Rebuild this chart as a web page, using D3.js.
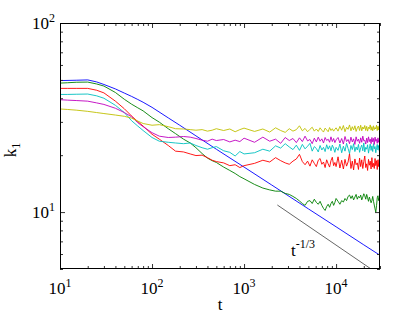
<!DOCTYPE html>
<html lang="en">
<head>
<meta charset="UTF-8">
<title>k1 versus t</title>
<style>
  body { margin: 0; background: #fff; }
  text { font-family: "Liberation Serif", "Times New Roman", "DejaVu Serif", serif; }
</style>
</head>
<body>
<svg width="420" height="316"></svg>

<script src="https://d3js.org/d3.v7.min.js"></script>
<script>
// time samples shared by the five noisy runs
const tGrid = [10, 12, 15, 20, 25, 30, 40, 50, 60, 70, 80, 100, 120, 150, 180, 220, 260, 300, 350, 400, 450, 500, 600, 700, 800, 900,
  1000, 1300, 1600, 1900, 2200, 2500, 2800, 3100, 3400, 3700, 4000, 4300, 4600, 4900, 5200, 5500, 5800, 6100, 6400, 6700,
  7000, 7300, 7600, 7900, 8200, 8500, 8800, 9100, 9400, 9700, 10000,
  10500, 11000, 11500, 12000, 12500, 13000, 13500, 14000, 14500, 15000, 15500, 16000, 16500, 17000, 17500, 18000, 18500,
  19000, 19500, 20000, 20500, 21000, 21500, 22000, 22500, 23000, 23500, 24000, 24500, 25000, 25500, 26000, 26500, 27000,
  27500, 28000, 28500, 29000, 29500, 30000];

const kGreen = [48.1, 48.3, 48.6, 48.7, 47.6, 46.4, 42.9, 39.5, 37.2, 35.6, 34.3, 31.6, 29.9, 27.6, 26.0, 24.3, 23.2, 21.9, 20.4, 19.3, 18.7, 18.3, 17.3, 16.6, 16.0, 15.4,
  15.0, 14.0, 13.4, 13.1, 12.9, 12.9, 12.55, 12.4, 12.1, 11.8, 11.45, 11.1, 10.85, 11.4, 11.5, 11.1, 11.7, 11.25, 11.0, 11.4,
  10.85, 10.45, 10.2, 10.7, 11.0, 10.6, 11.1, 11.4, 10.85, 11.25, 11.8,
  11.4, 11.0, 11.5, 11.3, 11.8, 11.5, 12.1, 12.3, 11.8, 12.2, 11.6, 12.0, 12.4, 11.7, 12.1, 11.9, 12.3, 11.6, 12.0, 12.5,
  12.2, 11.7, 12.4, 11.9, 11.4, 12.0, 11.6, 11.2, 11.5, 12.1, 11.4, 10.9, 10.4, 10.0, 10.8, 11.9, 12.2, 11.5, 11.9, 12.0];

const kRed = [45.1, 45.1, 45.1, 45.1, 44.1, 42.7, 38.6, 35.2, 32.2, 30.1, 28.5, 25.8, 24.3, 22.5, 21.0, 20.8, 20.3, 19.9, 20.0, 19.4, 18.8, 18.5, 18.2, 17.6, 17.8, 17.2,
  17.6, 18.1, 18.8, 18.4, 19.4, 18.7, 18.2, 17.9, 18.6, 19.1, 20.2, 18.5, 17.8, 18.6, 17.5, 18.9, 18.1, 17.4, 18.8, 19.2,
  17.9, 18.4, 17.2, 18.9, 18.0, 17.3, 18.7, 19.5, 17.6, 18.3, 17.4,
  19.6, 17.1, 18.8, 16.9, 19.0, 17.5, 18.4, 20.4, 17.0, 18.6, 16.7, 19.1, 17.8, 18.2, 16.8, 19.3, 17.4, 18.9, 17.0, 18.5,
  19.8, 17.2, 18.0, 16.6, 19.0, 17.7, 18.6, 16.9, 19.4, 17.3, 18.1, 17.0, 19.2, 17.6, 18.7, 16.8, 18.9, 17.4, 19.0, 17.5];

const kCyan = [41.9, 41.9, 42.0, 42.1, 41.2, 40.0, 36.7, 33.6, 30.4, 28.5, 27.0, 24.8, 23.7, 23.4, 23.2, 23.0, 23.2, 22.5, 21.9, 21.5, 21.9, 22.2, 21.1, 20.7, 19.8, 20.9,
  20.3, 20.6, 21.5, 21.0, 22.4, 21.8, 23.0, 22.1, 21.4, 22.6, 21.2, 22.8, 21.6, 22.3, 23.1, 21.0, 22.2, 21.7, 20.8, 22.5,
  21.3, 22.0, 20.9, 22.7, 21.5, 22.4, 21.1, 22.6, 21.8, 20.7, 22.0,
  21.2, 22.9, 20.6, 22.3, 21.0, 23.1, 21.7, 20.4, 22.5, 21.4, 23.0, 20.9, 22.1, 21.3, 22.8, 20.7, 21.9, 22.6, 21.1, 23.2,
  20.8, 22.0, 21.5, 22.7, 20.5, 21.8, 22.9, 21.2, 22.4, 20.9, 23.0, 21.6, 22.2, 20.6, 21.9, 22.8, 21.3, 22.5, 21.0, 22.3];

const kMagenta = [39.3, 39.1, 38.9, 38.6, 37.8, 37.1, 35.4, 33.6, 31.9, 29.7, 28.3, 26.3, 25.2, 24.8, 24.9, 25.1, 24.9, 24.5, 24.0, 23.7, 24.3, 23.9, 24.2, 23.5, 24.0, 23.6,
  24.6, 23.4, 24.9, 23.7, 24.3, 23.1, 24.8, 23.9, 24.5, 23.3, 24.7, 23.6, 25.2, 23.8, 24.2, 23.0, 24.6, 23.5, 24.9, 23.7,
  24.4, 23.2, 24.8, 23.9, 24.3, 23.4, 25.0, 23.6, 24.5, 23.3, 24.1,
  24.8, 23.2, 24.5, 22.9, 25.1, 23.6, 24.2, 23.0, 24.9, 23.5, 24.4, 22.8, 25.0, 23.7, 24.3, 23.1, 24.7, 23.4, 25.2, 23.8,
  24.0, 22.9, 24.6, 23.3, 25.0, 23.6, 24.3, 23.0, 24.8, 23.5, 24.5, 22.8, 24.9, 23.7, 24.2, 23.1, 24.7, 23.4, 24.4, 23.8];

const kYellow = [35.1, 34.9, 34.6, 34.1, 33.6, 33.2, 32.6, 32.1, 31.4, 30.3, 29.4, 28.8, 29.0, 28.3, 27.6, 27.5, 27.3, 27.1, 27.3, 26.8, 27.1, 27.6, 27.0, 27.5, 26.6, 27.3,
  27.8, 26.7, 27.5, 26.5, 27.9, 27.0, 26.4, 27.6, 26.8, 27.3, 28.6, 26.9, 27.7, 26.6, 27.4, 28.1, 26.8, 27.5, 26.7, 27.9,
  27.1, 26.5, 27.8, 27.2, 26.6, 28.0, 27.0, 27.6, 26.8, 27.4, 27.9,
  26.8, 28.4, 27.1, 28.7, 26.6, 28.1, 27.4, 28.9, 26.9, 28.3, 27.2, 28.6, 26.7, 27.9, 28.5, 27.0, 28.8, 26.9, 28.2, 27.5,
  28.7, 27.0, 28.4, 26.8, 28.1, 27.6, 28.9, 27.1, 28.3, 26.9, 28.6, 27.3, 28.0, 27.5, 28.8, 27.0, 28.4, 27.2, 28.6, 27.4];

// the smooth run
const tBlue = [10, 15, 20, 25, 30, 40, 50, 60, 70, 80, 100, 150, 200, 300, 500, 1000, 2000, 5000, 10000, 20000, 30000];
const kBlue = [49.6, 49.8, 50.0, 48.8, 47.3, 44.8, 42.6, 40.9, 39.4, 38.1, 35.8, 31.5, 28.8, 25.3, 21.5, 17.3, 13.9, 10.4, 8.36, 6.71, 5.91];

// t^-1/3 guide
const tRef = [2300, 24000];
const kRef = [10.9, 5.0];

const xMajor = [10, 100, 1000, 10000];
const xMinor = [20, 30, 40, 50, 60, 70, 80, 90, 200, 300, 400, 500, 600, 700, 800, 900,
  2000, 3000, 4000, 5000, 6000, 7000, 8000, 9000, 20000, 30000];
const yMajor = [10, 100];
const yMinor = [5, 6, 7, 8, 9, 20, 30, 40, 50, 60, 70, 80, 90];

let svg = d3.select("svg");
let plotL = 60, plotR = 380, plotT = 23, plotB = 269;
let serif = "Liberation Serif, Times New Roman, serif";

let x = d3.scaleLog().domain([10, 30000]).range([plotL, plotR]);
let y = d3.scaleLog().domain([5, 100]).range([plotB, plotT]);

svg.append("clipPath").attr("id", "plotArea")
  .append("rect")
  .attr("x", plotL).attr("y", plotT)
  .attr("width", plotR - plotL).attr("height", plotB - plotT);

let line = d3.line()
  .x(function(d) { return x(d[0]); })
  .y(function(d) { return y(d[1]); });

let plot = svg.append("g").attr("clip-path", "url(#plotArea)");

function addRun(ts, ks, colour) {
  let pts = ts.map(function(t, i) { return [t, ks[i]]; });
  plot.append("path")
    .attr("d", line(pts))
    .attr("fill", "none")
    .attr("stroke", colour)
    .attr("stroke-width", 0.9)
    .attr("stroke-linejoin", "round");
}

addRun(tBlue, kBlue, "#0000ff");
addRun(tGrid, kGreen, "#008000");
addRun(tGrid, kRed, "#ff0000");
addRun(tGrid, kCyan, "#00bfbf");
addRun(tGrid, kMagenta, "#bf00bf");
addRun(tGrid, kYellow, "#bfbf00");
addRun(tRef, kRef, "#555555");

// ticks on all four sides, pointing inward
function ticks(axis, values, size, transform) {
  let g = svg.append("g")
    .attr("transform", transform)
    .call(axis.tickValues(values).tickSize(-size).tickFormat(""));
  g.select(".domain").remove();
  g.selectAll("line").attr("stroke", "#333");
}
ticks(d3.axisBottom(x), xMajor, 5, "translate(0," + plotB + ")");
ticks(d3.axisBottom(x), xMinor, 3, "translate(0," + plotB + ")");
ticks(d3.axisTop(x), xMajor, 5, "translate(0," + plotT + ")");
ticks(d3.axisTop(x), xMinor, 3, "translate(0," + plotT + ")");
ticks(d3.axisLeft(y), yMajor, 5, "translate(" + plotL + ",0)");
ticks(d3.axisLeft(y), yMinor, 3, "translate(" + plotL + ",0)");
ticks(d3.axisRight(y), yMajor, 5, "translate(" + plotR + ",0)");
ticks(d3.axisRight(y), yMinor, 3, "translate(" + plotR + ",0)");

svg.append("rect")
  .attr("x", plotL + 0.5).attr("y", plotT + 0.5)
  .attr("width", plotR - plotL - 1).attr("height", plotB - plotT - 1)
  .attr("fill", "none")
  .attr("stroke", "#000")
  .attr("stroke-width", 1);

// tick labels as 10^n
function powerLabel(px, py, v, anchor) {
  let t = svg.append("text")
    .attr("x", px).attr("y", py)
    .attr("text-anchor", anchor)
    .attr("font-family", serif)
    .attr("font-size", 17)
    .attr("fill", "#000");
  t.append("tspan").text("10");
  t.append("tspan").attr("font-size", 12).attr("dy", -7).text(Math.round(Math.log10(v)));
}
xMajor.forEach(function(v) { powerLabel(x(v), 294, v, "middle"); });
yMajor.forEach(function(v) { powerLabel(55, y(v) + 6, v, "end"); });

// axis titles
svg.append("text")
  .attr("x", (plotL + plotR) / 2).attr("y", 310)
  .attr("text-anchor", "middle")
  .attr("font-family", serif)
  .attr("font-size", 17)
  .text("t");

let ylab = svg.append("text")
  .attr("transform", "translate(16,150) rotate(-90)")
  .attr("text-anchor", "middle")
  .attr("font-family", serif)
  .attr("font-size", 17);
ylab.append("tspan").text("k");
ylab.append("tspan").attr("font-size", 12).attr("dy", 4).text("1");

let refLab = svg.append("text")
  .attr("x", 291).attr("y", 256)
  .attr("font-family", serif)
  .attr("font-size", 17);
refLab.append("tspan").text("t");
refLab.append("tspan").attr("font-size", 12).attr("dy", -8).text("-1/3");
</script>
</body>
</html>
